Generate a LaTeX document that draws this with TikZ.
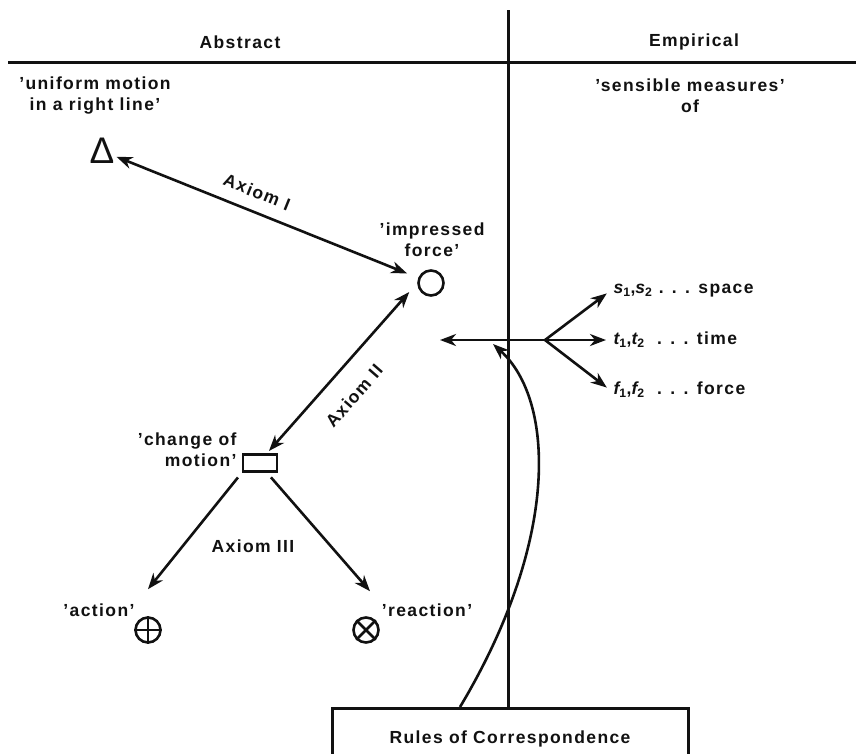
\documentclass[tikz,border=0pt]{standalone}
\usepackage{fontspec}
\setmainfont[LetterSpace=8]{Liberation Sans}
\usetikzlibrary{arrows.meta, calc}
\usepackage{xcolor}
\definecolor{ink}{HTML}{111111}

\begin{document}
\begin{tikzpicture}[
    x=1pt, y=-1pt,
    every node/.style={font=\fontsize{17.5}{21}\selectfont\bfseries, text=ink},
    >={Stealth[length=16pt, width=12pt, inset=5pt]},
    rule/.style={line width=3pt, draw=ink},
    link/.style={line width=2.6pt, draw=ink},
    sym/.style={draw=ink, line width=2.6pt, inner sep=0pt},
    ring/.style={sym, circle, minimum size=25pt},
    tag/.style={align=center},
  ]
  \useasboundingbox[fill=white] (0,0) rectangle (856,753);
  \clip (0,0) rectangle (856,753);

  % headings and the two columns
  \coordinate (hl) at (8,62);
  \coordinate (hr) at (856,62);
  \coordinate (vtop) at (508,10);
  \node (abs) at (240,42) {Abstract};
  \node (emp) at (694,42) {Empirical};
  \node[tag] (unif) at (95,96) {'uniform motion\\in a right line'};
  \node[tag] (sens) at (690,96) {'sensible measures'\\of};

  % abstract concepts
  \node[font=\fontsize{37}{37}\selectfont\mdseries, inner sep=1pt] (tri) at (102,151) {Δ};
  \node[ring] (imp) at (431,283) {};
  \node[tag] (impl) at (432,240) {'impressed\\force'};
  \node[sym, rectangle, minimum width=34pt, minimum height=17pt] (chg) at (260,463) {};
  \node[align=right, anchor=east] (chgl) at (240,450) {'change of\\motion'};
  \node[ring] (act) at (148,630) {};
  \node (actl) at (99,610) {'action'};
  \node[ring] (rea) at (366,630) {};
  \node (real) at (427,610) {'reaction'};
  \draw[link] (act.north) -- (act.south) (act.west) -- (act.east);
  \draw[link] (rea.north west) -- (rea.south east) (rea.north east) -- (rea.south west);

  % axioms
  \draw[link, <->, shorten <=1pt, shorten >=12pt] (tri) -- (imp);
  \node[rotate=-22] (ax1) at (257,192) {Axiom I};
  \draw[link, <->, shorten <=12pt, shorten >=3pt] (imp.west) -- ([xshift=7pt]chg.north);
  \node[rotate=49] (ax2) at (354,396) {Axiom II};
  \draw[link, ->, shorten <=6pt] (chg.south west) -- ([yshift=27pt]act.north);
  \draw[link, ->, shorten <=6pt] ([xshift=7pt]chg.south) -- ([xshift=4pt, yshift=25pt]rea.north);
  \node (ax3) at (253,546) {Axiom III};

  % sensible measures
  \coordinate (hub) at (545,340);
  \coordinate (obs) at (440,340);
  \node[anchor=west] (sp) at (610,291) {{\itshape s}\textsubscript{1},{\itshape s}\textsubscript{2} . . . space};
  \node[anchor=west] (tm) at (610,340) {{\itshape t}\textsubscript{1},{\itshape t}\textsubscript{2} \ . . . time};
  \node[anchor=west] (fc) at (610,390) {{\itshape f}\textsubscript{1},{\itshape f}\textsubscript{2} \ . . . force};
  \draw[link, ->] (hub) -- (obs);
  \foreach \m in {sp, tm, fc}
    \draw[link, ->, shorten >=4pt] (hub) -- (\m.west);

  % rules of correspondence
  \node[rule, minimum width=356pt, minimum height=60pt, anchor=north] (rules) at (510,707) {Rules of Correspondence};
  \draw[rule] (hl) -- (hr);
  \draw[rule] (vtop) -- (vtop |- rules.north);
  \coordinate (rc) at (493,344);
  \draw[link, ->] ([xshift=-50pt]rules.north) .. controls (560,540) and (555,400) .. (rc);
\end{tikzpicture}
\end{document}
